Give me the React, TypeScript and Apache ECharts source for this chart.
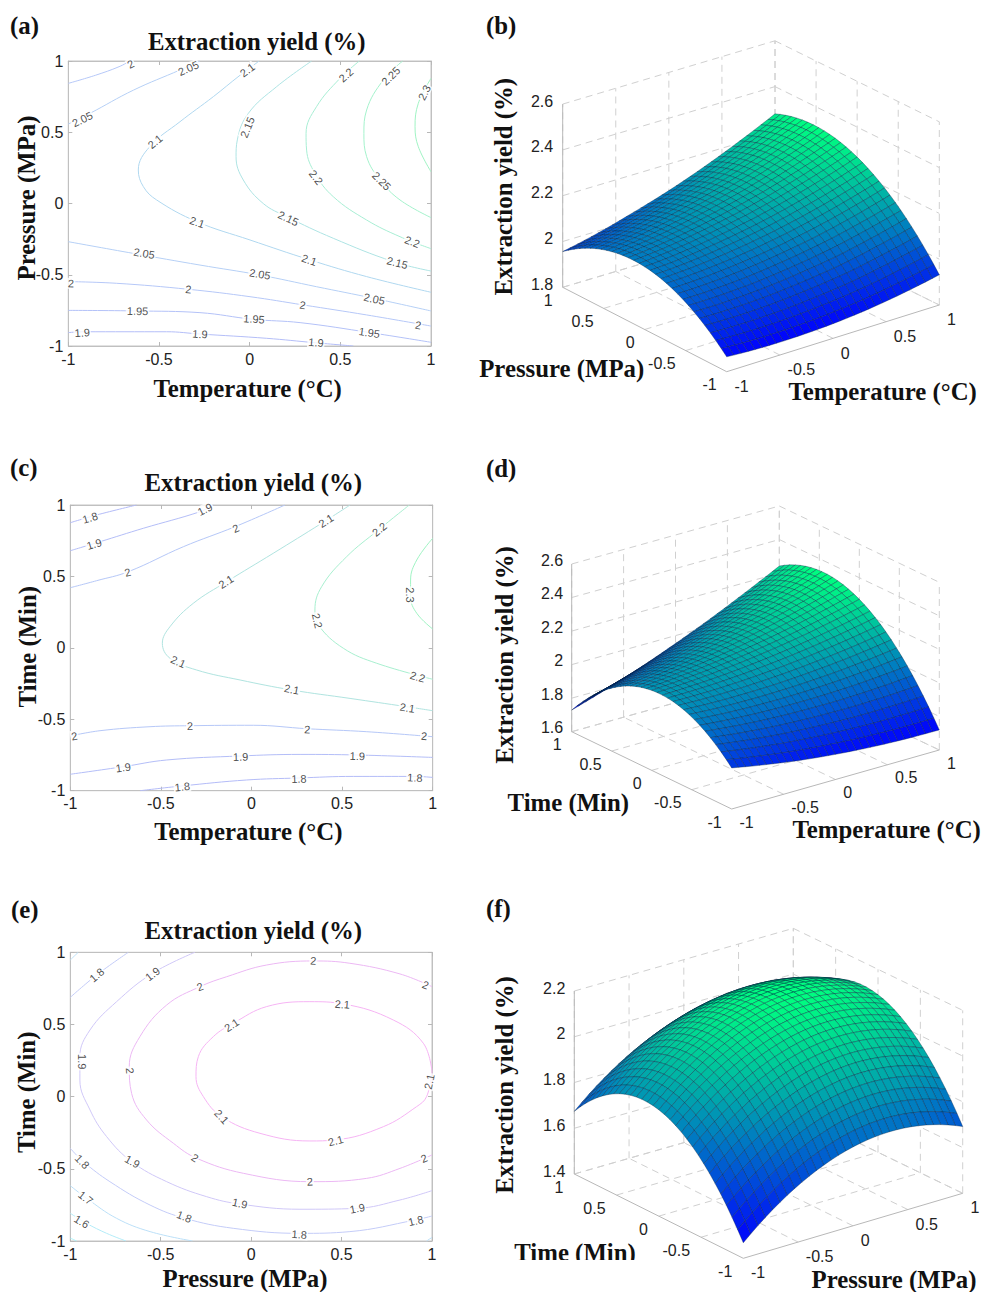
import React, { useEffect, useRef } from "react";
import * as echarts from "echarts";

const axisTicks = [-1, -0.5, 0, 0.5, 1];

// contour lines: [level, [[x, y], ...]]
const contoursA: [number, number[][]][] = [
  [2, [[-1, 0.843], [-0.85, 0.9], [-0.72, 0.96], [-0.66, 1]]],
  [2.05, [[-1, 0.558], [-0.88, 0.633], [-0.64, 0.796], [-0.384, 0.937], [-0.274, 1]]],
  [2.1, [[0.053, 1], [-0.053, 0.9], [-0.2, 0.75], [-0.384, 0.574], [-0.55, 0.4], [-0.614, 0.235], [-0.586, 0.118], [-0.513, 0.025], [-0.292, -0.127], [0.002, -0.256], [0.333, -0.396], [0.645, -0.513], [1, -0.623]]],
  [2.15, [[0.342, 1], [0.149, 0.82], [-0.007, 0.633], [-0.068, 0.446], [-0.075, 0.329], [-0.035, 0.165], [0.075, 0], [0.204, -0.092], [0.461, -0.244], [0.792, -0.408], [1, -0.474]]],
  [2.2, [[0.605, 1], [0.498, 0.878], [0.369, 0.68], [0.311, 0.492], [0.314, 0.375], [0.36, 0.212], [0.461, 0.048], [0.645, -0.116], [0.829, -0.233], [1, -0.317]]],
  [2.25, [[0.844, 1], [0.737, 0.867], [0.645, 0.656], [0.63, 0.492], [0.645, 0.329], [0.719, 0.165], [0.829, 0.025], [1, -0.099]]],
  [2.3, [[1, 0.878], [0.93, 0.703], [0.912, 0.539], [0.93, 0.399], [1, 0.223]]],
  [2.05, [[-1, -0.268], [-0.642, -0.35], [-0.274, -0.432], [0.057, -0.502], [0.369, -0.584], [0.682, -0.665], [1, -0.754]]],
  [2, [[-1, -0.548], [-0.733, -0.56], [-0.338, -0.602], [0.002, -0.654], [0.296, -0.712], [0.645, -0.782], [1, -0.86]]],
  [1.95, [[-1, -0.75], [-0.623, -0.754], [-0.274, -0.766], [0.02, -0.813], [0.278, -0.836], [0.664, -0.906], [1, -0.974]]],
  [1.9, [[-1, -0.906], [-0.917, -0.9], [-0.458, -0.9], [-0.274, -0.916], [0.094, -0.946], [0.36, -0.977], [0.572, -1]]],
];
const labelsA: number[][] = [
  [2, -0.656, 0.979], [2.05, -0.338, 0.949], [2.05, -0.923, 0.591], [2.1, -0.013, 0.937], [2.1, -0.522, 0.434],
  [2.15, -0.013, 0.535], [2.2, 0.531, 0.902], [2.2, 0.366, 0.184], [2.25, 0.778, 0.895], [2.25, 0.728, 0.158],
  [2.3, 0.963, 0.778], [2.1, -0.289, -0.132], [2.15, 0.213, -0.104], [2.1, 0.329, -0.396], [2.2, 0.897, -0.268],
  [2.15, 0.814, -0.415], [2.05, -0.581, -0.35], [2.05, 0.057, -0.495], [2.05, 0.688, -0.67], [2, -0.985, -0.56],
  [2, -0.338, -0.602], [2, 0.292, -0.712], [2, 0.93, -0.853], [1.95, -0.618, -0.754], [1.95, 0.024, -0.81],
  [1.95, 0.66, -0.906], [1.9, -0.923, -0.906], [1.9, -0.274, -0.916], [1.9, 0.366, -0.974],
];

const contoursC: [number, number[][]][] = [
  [1.8, [[-1, 0.876], [-0.855, 0.93], [-0.634, 1]]],
  [1.9, [[-1, 0.68], [-0.836, 0.743], [-0.597, 0.837], [-0.284, 0.953], [-0.21, 1]]],
  [2, [[-1, 0.421], [-0.855, 0.47], [-0.68, 0.533], [-0.376, 0.708], [-0.091, 0.848], [0.185, 1]]],
  [2.1, [[0.544, 1], [0.387, 0.872], [0.12, 0.662], [-0.137, 0.463], [-0.321, 0.312], [-0.45, 0.148], [-0.492, 0.032], [-0.45, -0.073], [-0.303, -0.155], [-0.063, -0.225], [0.222, -0.295], [0.544, -0.354], [0.856, -0.412], [1, -0.44]]],
  [2.2, [[0.871, 1], [0.7, 0.825], [0.525, 0.638], [0.387, 0.428], [0.35, 0.265], [0.369, 0.16], [0.507, -0.003], [0.691, -0.108], [1, -0.22]]],
  [2.3, [[1, 0.767], [0.912, 0.615], [0.878, 0.475], [0.878, 0.358], [0.912, 0.242], [1, 0.132]]],
  [2, [[-1, -0.617], [-0.836, -0.58], [-0.56, -0.552], [-0.339, -0.545], [0.01, -0.542], [0.305, -0.566], [0.636, -0.587], [1, -0.622]]],
  [1.9, [[-1, -0.885], [-0.708, -0.832], [-0.468, -0.785], [-0.063, -0.757], [0.268, -0.746], [0.58, -0.75], [1, -0.767]]],
  [1.8, [[-0.615, -1], [-0.385, -0.967], [-0.027, -0.925], [0.259, -0.911], [0.562, -0.9], [0.902, -0.9], [1, -0.907]]],
];
const labelsC: number[][] = [
  [1.8, -0.891, 0.911], [1.9, -0.869, 0.727], [1.9, -0.257, 0.97], [2, -0.684, 0.529], [2, -0.087, 0.837],
  [2.1, 0.411, 0.89], [2.1, -0.141, 0.463], [2.2, 0.706, 0.83], [2.2, 0.363, 0.19], [2.3, 0.875, 0.37],
  [2.1, -0.404, -0.097], [2.1, 0.222, -0.29], [2.2, 0.917, -0.202], [2.1, 0.86, -0.419], [2, -0.978, -0.617],
  [2, -0.339, -0.547], [2, 0.308, -0.571], [2, 0.952, -0.617], [1.9, -0.708, -0.837], [1.9, -0.06, -0.762],
  [1.9, 0.584, -0.757], [1.8, -0.382, -0.972], [1.8, 0.262, -0.916], [1.8, 0.902, -0.909],
];

const contoursE: [number, number[][]][] = [
  [1.5, [[-1, -0.98], [-0.965, -1]]],
  [1.6, [[-1, -0.808], [-0.91, -0.878], [-0.799, -0.947], [-0.692, -1]]],
  [1.7, [[-1, -0.617], [-0.91, -0.704], [-0.744, -0.843], [-0.559, -0.935], [-0.324, -1]]],
  [1.7, [[-1, 0.947], [-0.956, 1]]],
  [1.7, [[0.97, -1], [1, -0.975]]],
  [1.8, [[-1, -0.358], [-0.928, -0.45], [-0.781, -0.589], [-0.559, -0.751], [-0.366, -0.843], [-0.099, -0.912], [0.27, -0.947], [0.546, -0.935], [0.906, -0.855], [1, -0.827]]],
  [1.8, [[-1, 0.688], [-0.854, 0.843], [-0.679, 1]]],
  [1.9, [[-0.311, 1], [-0.545, 0.855], [-0.744, 0.658], [-0.891, 0.462], [-0.947, 0.277], [-0.947, 0.115], [-0.891, -0.092], [-0.799, -0.277], [-0.661, -0.45], [-0.467, -0.589], [-0.246, -0.693], [-0.062, -0.744], [0.27, -0.78], [0.583, -0.774], [0.823, -0.716], [1, -0.651]]],
  [2, [[1, 0.762], [0.823, 0.85], [0.546, 0.924], [0.344, 0.94], [0.086, 0.912], [-0.135, 0.831], [-0.283, 0.762], [-0.467, 0.635], [-0.615, 0.416], [-0.674, 0.208], [-0.661, 0.023], [-0.578, -0.162], [-0.43, -0.323], [-0.301, -0.427], [-0.043, -0.531], [0.325, -0.589], [0.639, -0.566], [0.823, -0.497], [1, -0.404]]],
  [2.1, [[1, 0.173], [0.952, 0.37], [0.786, 0.531], [0.51, 0.642], [0.325, 0.658], [0.086, 0.624], [-0.099, 0.508], [-0.209, 0.416], [-0.292, 0.277], [-0.305, 0.139], [-0.264, 0], [-0.163, -0.139], [0.049, -0.254], [0.325, -0.307], [0.464, -0.3], [0.731, -0.208], [0.915, -0.069], [0.97, 0], [1, 0.173]]],
];
const labelsE: number[][] = [
  [1.8, -0.854, 0.843], [1.9, -0.545, 0.85], [2, -0.283, 0.762], [2, 0.344, 0.942], [2, 0.965, 0.774],
  [2.1, -0.108, 0.497], [2.1, 0.504, 0.64], [1.9, -0.937, 0.242], [2, -0.67, 0.18], [2.1, 0.985, 0.104],
  [2.1, -0.163, -0.139], [2.1, 0.467, -0.305], [2, -0.311, -0.423], [2, 0.325, -0.589], [2, 0.956, -0.427],
  [1.9, -0.657, -0.45], [1.9, -0.062, -0.739], [1.9, 0.587, -0.774], [1.8, -0.934, -0.45], [1.8, -0.37, -0.831],
  [1.8, 0.266, -0.954], [1.8, 0.91, -0.859], [1.7, -0.915, -0.7], [1.6, -0.937, -0.866],
];

// surface heights at x, y = -1, -2/3, -1/3, 0, 1/3, 2/3, 1 (rows: x, columns: y)
const surfaceB = [
  [1.865, 1.971, 2.041, 2.074, 2.071, 2.032, 1.956],
  [1.857, 1.97, 2.047, 2.087, 2.091, 2.059, 1.991],
  [1.857, 1.977, 2.061, 2.109, 2.12, 2.096, 2.035],
  [1.864, 1.992, 2.083, 2.137, 2.156, 2.138, 2.084],
  [1.879, 2.013, 2.112, 2.174, 2.199, 2.189, 2.142],
  [1.902, 2.044, 2.149, 2.218, 2.251, 2.248, 2.208],
  [1.932, 2.081, 2.193, 2.269, 2.309, 2.313, 2.281],
];
const surfaceD = [
  [1.845, 1.987, 2.064, 2.077, 2.026, 1.909, 1.729],
  [1.806, 1.965, 2.06, 2.091, 2.057, 1.959, 1.796],
  [1.774, 1.951, 2.064, 2.112, 2.096, 2.015, 1.87],
  [1.75, 1.945, 2.075, 2.141, 2.143, 2.08, 1.953],
  [1.733, 1.945, 2.094, 2.177, 2.197, 2.152, 2.042],
  [1.723, 1.953, 2.119, 2.221, 2.258, 2.23, 2.139],
  [1.72, 1.968, 2.152, 2.271, 2.326, 2.316, 2.242],
];
const surfaceF = [
  [1.468, 1.666, 1.798, 1.865, 1.867, 1.803, 1.674],
  [1.597, 1.795, 1.927, 1.994, 1.996, 1.932, 1.803],
  [1.689, 1.887, 2.019, 2.086, 2.088, 2.024, 1.895],
  [1.745, 1.943, 2.075, 2.142, 2.144, 2.08, 1.951],
  [1.764, 1.962, 2.094, 2.161, 2.163, 2.099, 1.97],
  [1.746, 1.944, 2.076, 2.143, 2.145, 2.081, 1.952],
  [1.692, 1.89, 2.022, 2.089, 2.091, 2.027, 1.898],
];
const zTicksB = [1.8, 2, 2.2, 2.4, 2.6];
const zTicksD = [1.6, 1.8, 2, 2.2, 2.4, 2.6];
const zTicksF = [1.4, 1.6, 1.8, 2, 2.2];

const SERIF = '"Liberation Serif", "Times New Roman", serif';
const SANS = '"Liberation Sans", Arial, sans-serif';
const TITLE_FONT = `bold 24.8px ${SERIF}`;
const TICK_FONT = `16px ${SANS}`;

// ---------- contour colours ----------
const colorsABC: Record<string, string> = {
  "1.8": "#b4bcf8", "1.9": "#b4bef8", "1.95": "#b4c2f8", "2": "#b6c8f8", "2.05": "#b6d0f6", "2.1": "#b0d8f0",
  "2.15": "#aee4e4", "2.2": "#a8eed4", "2.25": "#a4f2cc", "2.3": "#a0f4c4",
};
const colorsCdark: Record<string, string> = { ...colorsABC, "2.1": "#b0e4e0", "2.2": "#a8f0d0", "2": "#b6c8f8" };
const colorsE: Record<string, string> = {
  "1.5": "#a8f2f8", "1.6": "#b4ecf8", "1.7": "#bce0f8", "1.8": "#c4ccf8", "1.9": "#d0c8f8", "2": "#ecb8f4", "2.1": "#f6b4f4",
};

function labelAngle(contours: [number, number[][]][], level: number, x: number, y: number, sx: number, sy: number) {
  let best = Infinity;
  let angle = 0;
  contours.forEach(([lv, pts]) => {
    if (lv !== level) return;
    for (let i = 0; i + 1 < pts.length; i++) {
      const ax = pts[i][0] * sx, ay = pts[i][1] * sy, bx = pts[i + 1][0] * sx, by = pts[i + 1][1] * sy;
      const dx = bx - ax, dy = by - ay;
      const len2 = dx * dx + dy * dy || 1;
      const t = Math.max(0, Math.min(1, ((x * sx - ax) * dx + (y * sy - ay) * dy) / len2));
      const d = Math.hypot(ax + t * dx - x * sx, ay + t * dy - y * sy);
      if (d < best) {
        best = d;
        let deg = (Math.atan2(dy, dx) * 180) / Math.PI;
        if (deg > 90) deg -= 180;
        if (deg < -90) deg += 180;
        angle = deg;
      }
    }
  });
  return angle;
}

// ---------- 3D helpers ----------
type Surf = {
  table: number[][]; zTicks: number[]; L: number[]; F: number[]; R: number[]; B: number[];
  perUnit: number; zOff: number[]; yOff: number[]; xOff: number[];
};
function project(s: Surf, x: number, y: number, z: number) {
  const u = (x + 1) / 2, v = (y + 1) / 2;
  const px = s.F[0] * (1 - u) * (1 - v) + s.R[0] * u * (1 - v) + s.L[0] * (1 - u) * v + s.B[0] * u * v;
  const py = s.F[1] * (1 - u) * (1 - v) + s.R[1] * u * (1 - v) + s.L[1] * (1 - u) * v + s.B[1] * u * v;
  return [px, py - (z - s.zTicks[0]) * s.perUnit];
}
// smooth drawing mesh through the read table values (5 mesh cells per table cell)
const SUB = 5;
function cr(p: number[], t: number) {
  const [a, b, c, d] = p;
  return 0.5 * (2 * b + (c - a) * t + (2 * a - 5 * b + 4 * c - d) * t * t + (3 * b - a - 3 * c + d) * t * t * t);
}
function at(row: number[], i: number) {
  const n = row.length;
  if (i < 0) return 3 * row[0] - 3 * row[1] + row[2];
  if (i >= n) return 3 * row[n - 1] - 3 * row[n - 2] + row[n - 3];
  return row[i];
}
function smoothRow(row: number[]) {
  const out: number[] = [];
  for (let i = 0; i < row.length - 1; i++) {
    for (let k = 0; k < SUB; k++) {
      out.push(cr([at(row, i - 1), row[i], row[i + 1], at(row, i + 2)], k / SUB));
    }
  }
  out.push(row[row.length - 1]);
  return out;
}
function smoothTable(table: number[][]) {
  const rows = table.map(smoothRow);
  const cols = rows[0].map((_, j) => smoothRow(rows.map((r) => r[j])));
  return cols[0].map((_, i) => cols.map((c) => c[i]));
}
function winter(t: number) {
  const c = Math.max(0, Math.min(1, t));
  return `rgb(0,${Math.round(c * 255)},${Math.round(255 * (1 - c * 0.5))})`;
}

function surfaceSeries(s: Surf, axisIndex: number): any[] {
  const mesh = smoothTable(s.table);
  const n = mesh.length - 1;
  const flat = mesh.flat();
  const zMin = Math.min(...flat), zMax = Math.max(...flat);
  const cells: { pts: number[][]; fill: string }[] = [];
  const pos = (i: number) => -1 + (2 * i) / n;
  for (let i = n - 1; i >= 0; i--) {
    for (let j = n - 1; j >= 0; j--) {
      const c = [[i, j], [i + 1, j], [i + 1, j + 1], [i, j + 1]];
      const mean = c.reduce((acc, [a, b]) => acc + mesh[a][b], 0) / 4;
      cells.push({
        pts: c.map(([a, b]) => project(s, pos(a), pos(b), mesh[a][b])),
        fill: winter((mean - zMin) / (zMax - zMin)),
      });
    }
  }
  const z0 = s.zTicks[0], zT = s.zTicks[s.zTicks.length - 1];
  const segs: { a: number[]; b: number[]; solid: boolean }[] = [];
  const seg = (x0: number, y0: number, z1: number, x1: number, y1: number, z2: number, solid = false) =>
    segs.push({ a: project(s, x0, y0, z1), b: project(s, x1, y1, z2), solid });
  axisTicks.forEach((t) => {
    seg(t, 1, z0, t, 1, zT);
    seg(1, t, z0, 1, t, zT);
    if (t > -1) seg(t, -1, z0, t, 1, z0);
    if (t > -1) seg(-1, t, z0, 1, t, z0);
  });
  s.zTicks.forEach((z) => {
    seg(-1, 1, z, 1, 1, z);
    seg(1, 1, z, 1, -1, z);
  });
  seg(-1, 1, z0, -1, 1, zT, true);
  seg(-1, 1, z0, -1, -1, z0, true);
  seg(-1, -1, z0, 1, -1, z0, true);

  const texts: { p: number[]; text: string; align: string }[] = [];
  s.zTicks.forEach((z) => {
    const p = project(s, -1, 1, z);
    texts.push({ p: [p[0] + s.zOff[0], p[1] + s.zOff[1]], text: String(z), align: "right" });
  });
  axisTicks.forEach((t) => {
    const py = project(s, -1, t, z0);
    texts.push({ p: [py[0] + s.yOff[0], py[1] + s.yOff[1]], text: String(t), align: "right" });
    const px = project(s, t, -1, z0);
    texts.push({ p: [px[0] + s.xOff[0], px[1] + s.xOff[1]], text: String(t), align: "left" });
  });

  const common = { type: "custom", coordinateSystem: "cartesian2d", xAxisIndex: axisIndex, yAxisIndex: axisIndex, clip: false, silent: true, animation: false, progressive: 0 };
  return [
    {
      ...common, z: 2, data: segs.map((_, i) => [i, i]),
      renderItem: (p: any, api: any) => {
        const d = segs[p.dataIndex];
        const a = api.coord(d.a), b = api.coord(d.b);
        return {
          type: "line", shape: { x1: a[0], y1: a[1], x2: b[0], y2: b[1] },
          style: { stroke: d.solid ? "#b8b8b8" : "#d0d0d0", lineWidth: 1, lineDash: d.solid ? null : [7, 5], fill: null },
        };
      },
    },
    {
      ...common, z: 3, data: cells.map((_, i) => [i, i]),
      renderItem: (p: any, api: any) => {
        const d = cells[p.dataIndex];
        return {
          type: "polygon", z2: p.dataIndex,
          shape: { points: d.pts.map((q) => api.coord(q)) },
          style: { fill: d.fill, stroke: "rgba(0,30,60,0.5)", lineWidth: 0.7 },
        };
      },
    },
    {
      ...common, z: 4, data: texts.map((_, i) => [i, i]),
      renderItem: (p: any, api: any) => {
        const d = texts[p.dataIndex];
        const q = api.coord(d.p);
        return {
          type: "text", x: q[0], y: q[1],
          style: { text: d.text, fill: "#222", font: TICK_FONT, textAlign: d.align, align: d.align, textVerticalAlign: "middle", verticalAlign: "middle" },
        };
      },
    },
  ];
}

// ---------- contour panels ----------
function contourParts(i: number, box: number[], contours: [number, number[][]][], labels: number[][], colors: Record<string, string>) {
  const [left, top, width, height] = box;
  const grid = { left, top, width, height, show: true, borderColor: "#c4c4c4", borderWidth: 1, backgroundColor: "#fff" };
  const tick = { show: true, inside: true, length: 4, lineStyle: { color: "#b8b8b8", width: 1 } };
  const line = { show: true, onZero: false, lineStyle: { color: "#c0c0c0", width: 1 } };
  const base = { type: "value", gridIndex: i, min: -1, max: 1, interval: 0.5, splitLine: { show: false }, axisTick: tick, axisLine: line };
  const xAxes = [
    { ...base, position: "bottom", axisLabel: { color: "#222", fontSize: 16, fontFamily: SANS, margin: 5, formatter: (v: number) => String(v) } },
    { ...base, position: "top", axisLabel: { show: false } },
  ];
  const yAxes = [
    { ...base, position: "left", axisLabel: { color: "#222", fontSize: 16, fontFamily: SANS, margin: 5, formatter: (v: number) => String(v) } },
    { ...base, position: "right", axisLabel: { show: false } },
  ];
  const series: any[] = contours.map(([level, pts]) => ({
    type: "line", name: String(level), xAxisIndex: i * 2, yAxisIndex: i * 2, data: pts, smooth: 0.4, showSymbol: false, silent: true,
    lineStyle: { color: colors[String(level)] || "#b6c8f8", width: 1 }, z: 2,
  }));
  const sx = width / 2, sy = height / 2;
  series.push({
    type: "scatter", xAxisIndex: i * 2, yAxisIndex: i * 2, symbolSize: 1, silent: true, z: 5,
    itemStyle: { color: "transparent" },
    label: { show: true, position: "inside", color: "#1c1c1c", fontSize: 11, fontFamily: SANS, backgroundColor: "#fff", padding: [0, 1] },
    data: labels.map(([level, x, y]) => ({
      value: [x, y],
      label: { formatter: String(level), rotate: labelAngle(contours, level, x, y, sx, sy) },
    })),
  });
  return { grid, xAxes, yAxes, series };
}

const panelTexts: { text: string; x: number; y: number; rot?: boolean; left?: boolean }[] = [
  { text: "(a)", x: 10, y: 25, left: true },
  { text: "Extraction yield (%)", x: 256.7, y: 41 },
  { text: "Temperature (°C)", x: 247.7, y: 388.5 },
  { text: "Pressure (MPa)", x: 26, y: 198, rot: true },
  { text: "(b)", x: 486, y: 25, left: true },
  { text: "Extraction yield (%)", x: 503, y: 186.7, rot: true },
  { text: "Pressure (MPa)", x: 561.7, y: 368.5 },
  { text: "Temperature (°C)", x: 882.7, y: 391 },
  { text: "(c)", x: 10, y: 467, left: true },
  { text: "Extraction yield (%)", x: 253.3, y: 482.8 },
  { text: "Temperature (°C)", x: 248.3, y: 831.2 },
  { text: "Time (Min)", x: 27, y: 646.7, rot: true },
  { text: "(d)", x: 486, y: 468.3, left: true },
  { text: "Extraction yield (%)", x: 504.3, y: 655, rot: true },
  { text: "Time (Min)", x: 568.3, y: 802.8 },
  { text: "Temperature (°C)", x: 886.7, y: 829.5 },
  { text: "(e)", x: 11, y: 909, left: true },
  { text: "Extraction yield (%)", x: 253.3, y: 930.2 },
  { text: "Pressure (MPa)", x: 245, y: 1278.8 },
  { text: "Time (Min)", x: 26, y: 1092.3, rot: true },
  { text: "(f)", x: 486, y: 908.3, left: true },
  { text: "Extraction yield (%)", x: 504.3, y: 1085, rot: true },
  { text: "Time (Min)", x: 575, y: 1252 },
  { text: "Pressure (MPa)", x: 894, y: 1279.5 },
];

export default function App() {
  const ref = useRef<HTMLDivElement>(null);
  useEffect(() => {
    document.body.style.margin = "0";
    const chart = echarts.init(ref.current!, undefined, { renderer: "svg" });

    const panels = [
      contourParts(0, [68.3, 61, 362.7, 285], contoursA, labelsA, colorsABC),
      contourParts(1, [70.3, 505, 362.4, 285.7], contoursC, labelsC, colorsCdark),
      contourParts(2, [70.3, 952.3, 361.7, 288.7], contoursE, labelsE, colorsE),
    ];
    const surfB: Surf = {
      table: surfaceB, zTicks: zTicksB, L: [562.7, 287.3], F: [726.7, 371.7], R: [939.3, 305], B: [775, 224],
      perUnit: 229, zOff: [-9.5, -3], yOff: [-10, 12.7], xOff: [7.7, 14.7],
    };
    const surfD: Surf = {
      table: surfaceD, zTicks: zTicksD, L: [571.7, 731.7], F: [731.7, 809], R: [939.3, 750], B: [779.3, 673.7],
      perUnit: 167.7, zOff: [-8.5, -4], yOff: [-10, 13], xOff: [7.7, 13],
    };
    const surfF: Surf = {
      table: surfaceF, zTicks: zTicksF, L: [574.3, 1174], F: [743.3, 1258.3], R: [962.7, 1193.3], B: [793.3, 1111.3],
      perUnit: 228.7, zOff: [-9, -3], yOff: [-11, 13], xOff: [7.7, 14.5],
    };

    const hiddenAxisX = { type: "value", gridIndex: 3, min: 0, max: 982, show: false };
    const hiddenAxisY = { type: "value", gridIndex: 3, min: 0, max: 1292, inverse: true, show: false };

    const graphicEls: any[] = panelTexts.map((t) => ({
      type: "text", x: t.x, y: t.y, rotation: t.rot ? Math.PI / 2 : 0,
      style: {
        text: t.text, font: TITLE_FONT, fill: "#111",
        textAlign: t.left ? "left" : "center", align: t.left ? "left" : "center",
        textVerticalAlign: "middle", verticalAlign: "middle",
      },
    }));
    // the reference crops the bottom of this axis title
    graphicEls.push({ type: "rect", shape: { x: 510, y: 1260, width: 130, height: 12 }, style: { fill: "#fff" } });

    chart.setOption({
      animation: false,
      backgroundColor: "#fff",
      grid: [...panels.map((p) => p.grid), { left: 0, top: 0, width: 982, height: 1292, show: false }],
      xAxis: [...panels.flatMap((p) => p.xAxes), hiddenAxisX],
      yAxis: [...panels.flatMap((p) => p.yAxes), hiddenAxisY],
      series: [
        ...panels.flatMap((p) => p.series),
        ...surfaceSeries(surfB, 6),
        ...surfaceSeries(surfD, 6),
        ...surfaceSeries(surfF, 6),
      ],
      graphic: { elements: graphicEls },
    });
    return () => chart.dispose();
  }, []);
  return <div ref={ref} style={{ position: "absolute", left: 0, top: 0, width: 982, height: 1292 }} />;
}
